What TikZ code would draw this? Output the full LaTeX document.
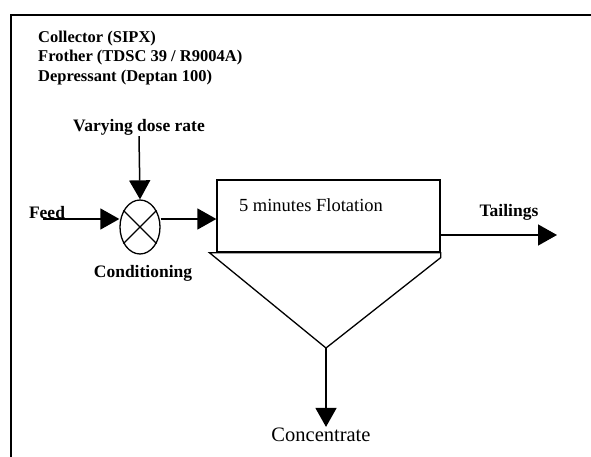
\documentclass[tikz,border=0pt]{standalone}
\usepackage{fontspec}
\setmainfont{Liberation Serif}
\usetikzlibrary{positioning}
\usetikzlibrary{shapes.geometric,arrows.meta}

\begin{document}
\begin{tikzpicture}[
		x=1pt,y=-1pt,
		lbl/.style={font=\fontsize{17.5}{20}\selectfont\bfseries,inner sep=1pt},
		chemlbl/.style={font=\fontsize{16.5}{19.5}\selectfont\bfseries,inner sep=1pt},
		big/.style={font=\fontsize{18.5}{22}\selectfont,inner sep=1pt},
		flow/.style={line width=1.5pt,-{Triangle[length=19pt,width=21pt]}},
		edge/.style={line width=1.3pt}
	]
		\useasboundingbox (0,0) rectangle (591,457);
		\draw[line width=2pt]
			(11,457) -- (11,15) -- (591,15)
		;
		\path
			(37,58) node[chemlbl,anchor=west,align=left](chem){Collector (SIPX)\\Frother (TDSC 39 / R9004A)\\Depressant (Deptan 100)}
			(140,227) node[ellipse,draw,line width=1.3pt,minimum width=40pt,minimum height=54pt,inner sep=0](cond){}
			(139,127) node[lbl](dose){Varying dose rate}
			(47,213) node[lbl](feed){Feed}
			(143,273) node[lbl](condlbl){Conditioning}
			(328.5,216) node[rectangle,draw,line width=1.3pt,minimum width=223pt,minimum height=72pt](flot){}
			(311,205) node[big](flotlbl){5 minutes Flotation}
			(509,212) node[lbl](tail){Tailings}
			(321,435) node[big,font=\fontsize{20.5}{24}\selectfont](conc){Concentrate}
			(43,219) coordinate(feedin)
			(557,235) coordinate(tailout)
			(326,348) coordinate(apex)
		;
		% mixer cross
		\draw[edge]
			(cond.45) -- (cond.225)
			(cond.135) -- (cond.315)
		;
		% cone under the cell
		\draw[edge]
			(flot.south west) ++(-7,0) -- (flot.south east) -- ++(0,5) -- (apex) -- cycle
		;
		\draw[flow] (feedin) -- (feedin -| cond.west);
		\draw[flow] (feedin -| cond.east) -- (feedin -| flot.west);
		\draw[flow] (dose.south) -- (cond.north);
		\draw[flow] (tailout -| flot.east) -- (tailout);
		\draw[flow] (apex) -- (apex |- conc.north);
	\end{tikzpicture}
\end{document}
